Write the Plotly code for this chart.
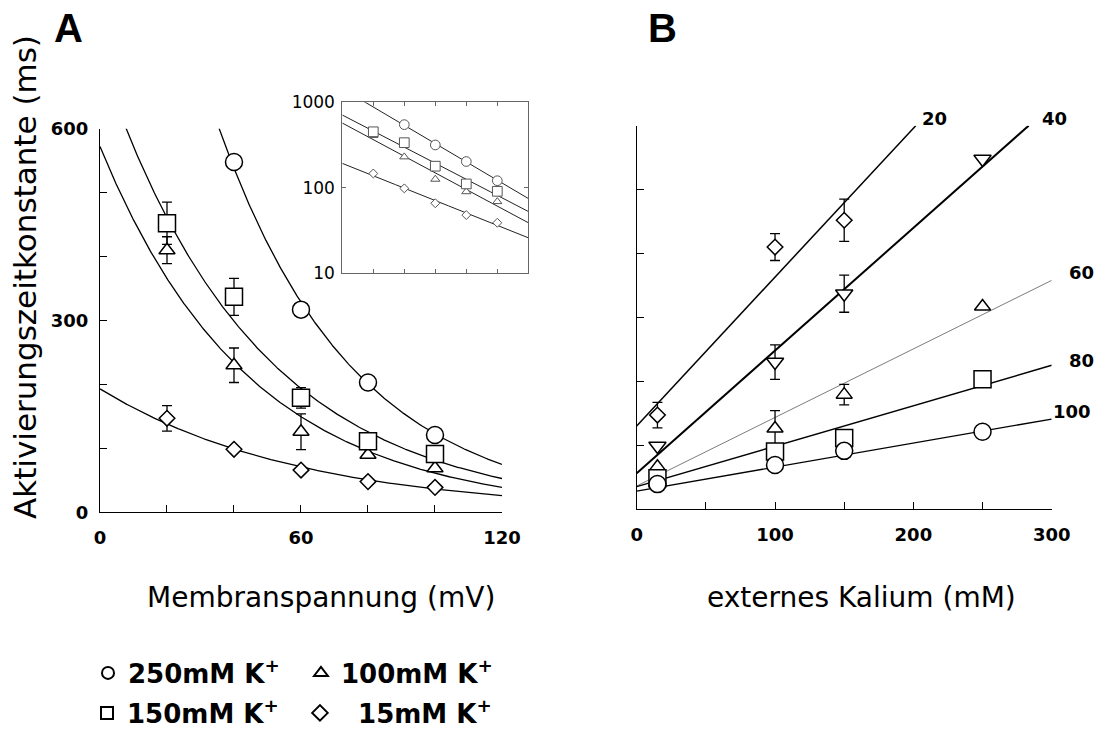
import numpy as np
import plotly.graph_objects as go

# ---------------- data ----------------
voltages = [20, 40, 60, 80, 100]           # mV
k_conc = [15, 100, 150, 250]               # mM external K+

tau_250 = [None, 548, 317, 203, 121]       # ms
tau_150 = [452, 337, 179, 111, 91]
tau_100 = [410, 230, 126, 90, 69]
tau_15 = [147, 98.5, 66, 48, 39]

err_250 = [0, 0, 0, 0, 0]
err_150 = [33, 29, 16, 0, 0]
err_100 = [21, 27, 28, 0, 0]
err_15 = [20, 0, 0, 0, 0]

# exponential fits for panel A: tau = amp * exp(-V / vs)
fitA_amp = [1441, 710, 572, 193]
fitA_vs = [40.6, 46.2, 44.7, 59.9]

# linear fits for panel B: tau = b + m * [K]
fitB_volt = [20, 40, 60, 80, 100]
fitB_intercept = [130, 56, 36, 35, 28]
fitB_slope = [2.33, 1.92, 1.073, 0.633, 0.376]

series_names = ["250mM K<sup>+</sup>", "100mM K<sup>+</sup>", "150mM K<sup>+</sup>", "\u200715mM K<sup>+</sup>"]

FONT = "DejaVu Sans, Arial, sans-serif"

fig = go.Figure()

# ---------------- panel A ----------------
A_sets = [
    (tau_250, err_250, "circle", 17, fitA_amp[0], fitA_vs[0], series_names[0], "legend"),
    (tau_100, err_100, "triangle-up", 14, fitA_amp[2], fitA_vs[2], series_names[1], "legend2"),
    (tau_150, err_150, "square", 17, fitA_amp[1], fitA_vs[1], series_names[2], "legend3"),
    (tau_15, err_15, "diamond", 12, fitA_amp[3], fitA_vs[3], series_names[3], "legend4"),
]

xfit = np.linspace(0, 120, 481)
for tau, err, sym, size, amp, vs, name, leg in A_sets:
    fig.add_trace(go.Scatter(x=xfit, y=amp * np.exp(-xfit / vs), mode="lines",
                             line=dict(color="black", width=1.3), showlegend=False,
                             xaxis="x", yaxis="y", hoverinfo="skip"))
for tau, err, sym, size, amp, vs, name, leg in A_sets:
    fig.add_trace(go.Scatter(x=voltages, y=tau, mode="markers",
                             marker=dict(symbol=sym, size=size, color="white",
                                         line=dict(color="black", width=1.5)),
                             error_y=dict(type="data", array=err, visible=True,
                                          color="black", thickness=1.3, width=5),
                             name="<b>" + name + "</b>", legend=leg, showlegend=True,
                             cliponaxis=False, xaxis="x", yaxis="y"))

# ---------------- inset (log) ----------------
for tau, err, sym, size, amp, vs, name, leg in A_sets:
    fig.add_trace(go.Scatter(x=xfit, y=amp * np.exp(-xfit / vs), mode="lines",
                             line=dict(color="#222", width=1), showlegend=False,
                             xaxis="x2", yaxis="y2", hoverinfo="skip"))
for tau, err, sym, size, amp, vs, name, leg in A_sets:
    fig.add_trace(go.Scatter(x=voltages, y=tau, mode="markers",
                             marker=dict(symbol=sym, size=size * 0.57, color="white",
                                         line=dict(color="#555", width=1)),
                             showlegend=False, xaxis="x2", yaxis="y2"))

# ---------------- panel B ----------------
B_sym = ["diamond", "triangle-down", "triangle-up", "square", "circle"]
B_size = [12, 15, 14, 17, 17]
B_lw = [1.5, 2, 0.7, 1.5, 1.3]
B_lc = ["black", "black", "#444", "black", "black"]
by_conc = [tau_15, tau_100, tau_150, tau_250]
err_by_conc = [err_15, err_100, err_150, err_250]

for i, v in enumerate(fitB_volt):
    b, m = fitB_intercept[i], fitB_slope[i]
    xend = min(300, (600 - b) / m)
    xl = np.linspace(0, xend, 50)
    fig.add_trace(go.Scatter(x=xl, y=b + m * xl, mode="lines",
                             line=dict(color=B_lc[i], width=B_lw[i]), showlegend=False,
                             xaxis="x3", yaxis="y3", hoverinfo="skip"))
for i, v in enumerate(voltages):
    yv = [col[i] for col in by_conc]
    ev = [col[i] for col in err_by_conc]
    fig.add_trace(go.Scatter(x=k_conc, y=yv, mode="markers",
                             marker=dict(symbol=B_sym[i], size=B_size[i], color="white",
                                         line=dict(color="black", width=1.5)),
                             error_y=dict(type="data", array=ev, visible=True,
                                          color="black", thickness=1.3, width=5),
                             showlegend=False, cliponaxis=False, xaxis="x3", yaxis="y3"))

# ---------------- axes ----------------
tickfont_b = dict(family=FONT, size=18, color="black", weight="bold")
common = dict(showline=True, linecolor="black", linewidth=1.3, ticks="inside",
              ticklen=7, tickwidth=1.2, tickcolor="black", showgrid=False,
              zeroline=False, tickfont=tickfont_b)

xA_ticks = [0, 20, 40, 60, 80, 100, 120]
xA_text = ["0", "", "", "60", "", "", "120"]
yA_ticks = [0, 100, 200, 300, 400, 500, 600]
yA_text = ["0", "", "", "300", "", "", "600"]
xB_ticks = [0, 50, 100, 150, 200, 250, 300]
xB_text = ["0", "", "100", "", "200", "", "300"]
yB_text = ["", "", "", "", "", "", ""]

fig.update_layout(
    width=1096, height=729, autosize=False,
    margin=dict(l=0, r=0, t=0, b=0, pad=0, autoexpand=False),
    paper_bgcolor="white", plot_bgcolor="rgba(0,0,0,0)",
    font=dict(family=FONT, color="black"),
    xaxis=dict(domain=[0.09124, 0.45803], range=[0, 120], tickvals=xA_ticks,
               ticktext=xA_text, anchor="y", ticklabelstandoff=9, **common),
    yaxis=dict(domain=[0.29726, 0.82346], range=[0, 600], tickvals=yA_ticks,
               ticktext=yA_text, anchor="x", ticklabelstandoff=7, **common),
    xaxis2=dict(domain=[0.31232, 0.48203], range=[0, 120], tickvals=[20, 40, 60, 80, 100],
                showticklabels=False, anchor="y2", showline=True, mirror="ticks",
                linecolor="#666", linewidth=1, ticks="inside", ticklen=4,
                tickcolor="#666", showgrid=False, zeroline=False),
    yaxis2=dict(domain=[0.62510, 0.85967], type="log", range=[1, 3],
                tickvals=[10, 100, 1000], ticktext=["10", "100", "1000"],
                anchor="x2", showline=True, mirror="ticks", linecolor="#666",
                linewidth=1, ticks="inside", ticklen=4, tickcolor="#666",
                showgrid=False, zeroline=False, ticklabelstandoff=3,
                tickfont=dict(family=FONT, size=17, color="black")),
    xaxis3=dict(domain=[0.58093, 0.95958], range=[0, 300], tickvals=xB_ticks,
                ticktext=xB_text, anchor="y3", ticklabelstandoff=9, **common),
    yaxis3=dict(domain=[0.30178, 0.82757], range=[0, 600], tickvals=yA_ticks,
                ticktext=yB_text, anchor="x3", **common),
)

legend_common = dict(font=dict(family=FONT, size=26, color="black"),
                     bgcolor="rgba(0,0,0,0)", borderwidth=0, itemsizing="constant",
                     xanchor="left", yanchor="middle", orientation="h")
row1 = 1 - 673 / 729
row2 = 1 - 713 / 729
fig.update_layout(
    legend=dict(x=0.0803, y=row1, **legend_common),
    legend2=dict(x=0.2746, y=row1, **legend_common),
    legend3=dict(x=0.0794, y=row2, **legend_common),
    legend4=dict(x=0.2737, y=row2, **legend_common),
)

# ---------------- annotations ----------------
def note(text, px, py, size, family=FONT, angle=0):
    return dict(text=text, x=px / 1096, y=1 - py / 729, xref="paper", yref="paper",
                xanchor="center", yanchor="middle", showarrow=False, textangle=angle,
                font=dict(family=family, size=size, color="black"))

ann = [
    note("<b>A</b>", 68, 28, 40, "Liberation Sans, Arial"),
    note("<b>B</b>", 662, 28, 40, "Liberation Sans, Arial"),
    note("Membranspannung (mV)", 321, 597, 28),
    note("externes Kalium (mM)", 861, 597, 28),
    note("Aktivierungszeitkonstante (ms)", 25, 277, 31, angle=-90),
]

line_label_pos = [(934, 118), (1054, 118), (1081, 272), (1081, 360), (1072, 411)]
for v, (px, py) in zip(fitB_volt, line_label_pos):
    ann.append(note("<b>%d</b>" % v, px, py, 18))
fig.update_layout(annotations=ann)

fig.write_html("out.html")
